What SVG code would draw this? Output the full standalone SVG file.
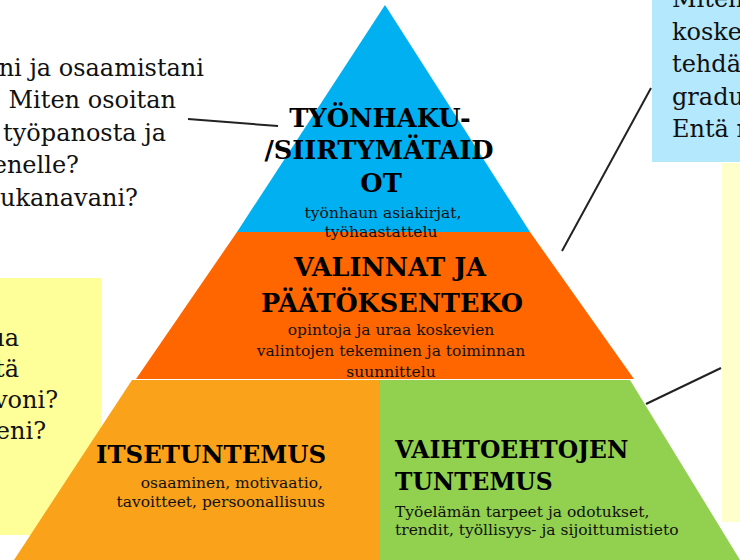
<svg xmlns="http://www.w3.org/2000/svg" width="740" height="560" viewBox="0 0 740 560">
<style>
.q{font-family:"DejaVu Serif","Liberation Serif",serif;font-size:24px;fill:#111}
.h{font-family:"DejaVu Serif","Liberation Serif",serif;font-size:25px;font-weight:bold;fill:#000}
.s{font-family:"DejaVu Serif","Liberation Serif",serif;font-size:15.5px;fill:#111}
.c{stroke:#222;stroke-width:2;fill:none}
</style>
<rect width="740" height="560" fill="#fff"/>
<g id="note-left-yellow">
<rect x="0" y="278" width="101" height="257" fill="#FFFF99"/>
<text class="q" text-anchor="end"><tspan x="19" y="346">ua</tspan><tspan x="19" y="377">tä</tspan><tspan x="58" y="408">voni?</tspan><tspan x="46" y="439">eni?</tspan></text>
</g>
<g id="note-top-left">
<text class="q" text-anchor="end"><tspan x="204" y="76">ni ja osaamistani</tspan><tspan x="176" y="108">Miten osoitan</tspan><tspan x="166" y="141">työpanosta ja</tspan><tspan x="79" y="173">enelle?</tspan><tspan x="138" y="206">ukanavani?</tspan></text>
</g>
<g id="note-top-right">
<rect x="652" y="0" width="88" height="162" fill="#B3E8FD"/>
<text class="q"><tspan x="672" y="7">Miten</tspan><tspan x="672" y="40">koske</tspan><tspan x="672" y="72">tehdä</tspan><tspan x="672" y="105">gradu</tspan><tspan x="672" y="137">Entä r</tspan></text>
</g>
<g id="note-right-yellow">
<rect x="722" y="163" width="18" height="359" fill="#FFFFCC"/>
</g>
<g id="connectors">
<line class="c" x1="188" y1="119" x2="278" y2="126"/>
<line class="c" x1="562" y1="251" x2="651" y2="88"/>
<line class="c" x1="646" y1="404" x2="721" y2="368"/>
</g>
<g id="itsetuntemus">
<polygon points="132,380 380,380 380,560 14,560" fill="#FAA21A"/>
<text class="h" x="96" y="463" style="font-size:24.4px">ITSETUNTEMUS</text>
<text class="s" text-anchor="end"><tspan x="323" y="488">osaaminen, motivaatio,</tspan><tspan x="325" y="507">tavoitteet, persoonallisuus</tspan></text>
</g>
<g id="vaihtoehtojen-tuntemus">
<polygon points="380,380 630,380 740,560 380,560" fill="#92D050"/>
<text class="h" style="font-size:23.4px"><tspan x="395" y="458">VAIHTOEHTOJEN</tspan><tspan x="395" y="490">TUNTEMUS</tspan></text>
<text class="s"><tspan x="395" y="517">Työelämän tarpeet ja odotukset,</tspan><tspan x="395" y="535">trendit, työllisyys- ja sijoittumistieto</tspan></text>
</g>
<g id="valinnat">
<polygon points="237,232 530,232 634,379 136,379" fill="#FF6600"/>
</g>
<g id="tyonhaku">
<polygon points="385,5 530,232 237,232" fill="#00B0F0"/>
<text class="h" text-anchor="middle" style="font-size:25.7px"><tspan x="380" y="127">TYÖNHAKU-</tspan><tspan x="379" y="159">/SIIRTYMÄTAID</tspan><tspan x="381" y="192">OT</tspan></text>
<text class="s" text-anchor="middle"><tspan x="383" y="218">työnhaun asiakirjat,</tspan><tspan x="381" y="237">työhaastattelu</tspan></text>
</g>
<g id="valinnat-text">
<text class="h" text-anchor="middle" style="font-size:25.5px"><tspan x="390" y="276">VALINNAT JA</tspan><tspan x="392" y="312">PÄÄTÖKSENTEKO</tspan></text>
<text class="s" text-anchor="middle"><tspan x="391" y="335">opintoja ja uraa koskevien</tspan><tspan x="391" y="356">valintojen tekeminen ja toiminnan</tspan><tspan x="391" y="377">suunnittelu</tspan></text>
</g>
</svg>
